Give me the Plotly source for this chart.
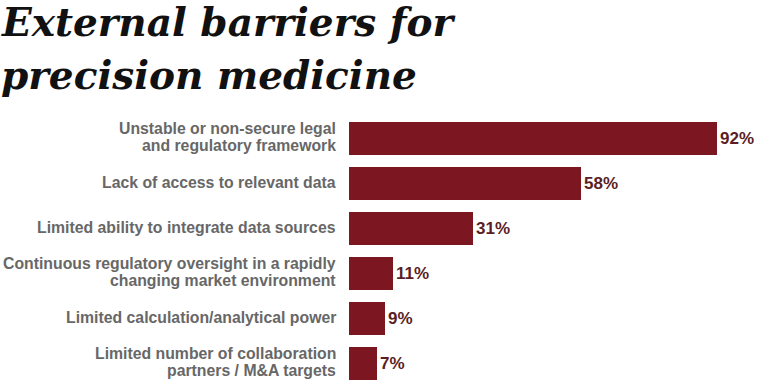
import plotly.graph_objects as go

categories = [
    "Unstable or non-secure legal<br>and regulatory framework",
    "Lack of access to relevant data",
    "Limited ability to integrate data sources",
    "Continuous regulatory oversight in a rapidly<br>changing market environment",
    "Limited calculation/analytical power",
    "Limited number of collaboration<br>partners / M&A targets",
]
values = [92, 58, 31, 11, 9, 7]
value_labels = [f"{v}%" for v in values]
title_lines = ["External barriers for", "precision medicine"]

W, H = 760, 383
L, T = 349, 116
plot_w = W - L
plot_h = H - T
px_per_unit = 4.0
pitch = 45.0
line_gap = 17.5

LABEL_FONT = dict(family="Liberation Sans", size=15.8, color="#676767", weight="bold")

fig = go.Figure(
    go.Bar(
        x=values,
        y=list(range(len(categories))),
        orientation="h",
        marker=dict(color="#7c1620", line=dict(width=0)),
        width=33 / pitch,
        text=value_labels,
        textposition="outside",
        textfont=dict(family="Liberation Sans", size=17, color="#5a1e24", weight="bold"),
        cliponaxis=False,
        hoverinfo="skip",
    )
)

annotations = []
for i, cat in enumerate(categories):
    lines = cat.split("<br>")
    n = len(lines)
    for j, line in enumerate(lines):
        offset = (j - (n - 1) / 2) * line_gap
        annotations.append(
            dict(
                text=line,
                xref="paper",
                yref="y",
                x=0,
                y=i,
                xshift=-11,
                yshift=-offset + 1.5,
                xanchor="right",
                yanchor="middle",
                showarrow=False,
                font=LABEL_FONT,
            )
        )

title_centers_px = [22, 75]
for line, cy in zip(title_lines, title_centers_px):
    annotations.append(
        dict(
            text=line,
            xref="paper",
            yref="paper",
            x=(-1 - L) / plot_w,
            y=(H - cy) / plot_h,
            xanchor="left",
            yanchor="middle",
            showarrow=False,
            font=dict(family="DejaVu Serif", size=39, color="#111111", weight="bold", style="italic"),
        )
    )

fig.update_layout(
    width=W,
    height=H,
    margin=dict(l=L, r=0, t=T, b=0, pad=0),
    paper_bgcolor="white",
    plot_bgcolor="white",
    showlegend=False,
    xaxis=dict(
        range=[0, plot_w / px_per_unit],
        visible=False,
        fixedrange=True,
        automargin=False,
    ),
    yaxis=dict(
        range=[-0.5 + plot_h / pitch, -0.5],
        showticklabels=False,
        showgrid=False,
        zeroline=False,
        showline=False,
        ticks="",
        automargin=False,
    ),
    annotations=annotations,
)

fig.write_html(
    "out.html",
    config={"displayModeBar": False},
    post_script="document.body.style.margin='0';document.body.style.padding='0';",
)
